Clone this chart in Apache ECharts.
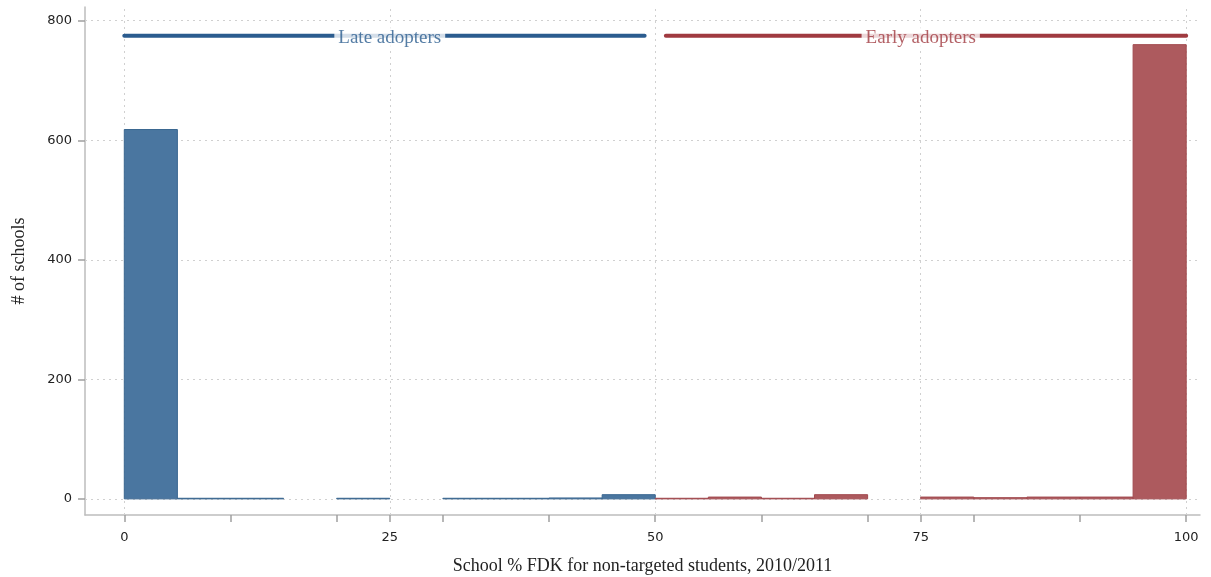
<!DOCTYPE html>
<html>
<head>
<meta charset="utf-8">
<script src="https://cdn.jsdelivr.net/npm/echarts@6/dist/echarts.min.js"></script>
<style>html,body{margin:0;padding:0;background:#fff}#c{width:1211px;height:577px}</style>
</head>
<body>
<div id="c"></div>
<script>
// Histogram bins (bin start, bin end, count)
const lateBins = [
  [0, 5, 618], [5, 10, 1], [10, 15, 1], [15, 20, 0], [20, 25, 1],
  [25, 30, 0], [30, 35, 1], [35, 40, 1], [40, 45, 1.5], [45, 50, 7]
];
const earlyBins = [
  [50, 55, 1], [55, 60, 3], [60, 65, 1], [65, 70, 7], [70, 75, 0],
  [75, 80, 3], [80, 85, 2], [85, 90, 3], [90, 95, 3], [95, 100, 760]
];
// Group indicator lines
const lateLine = [[0, 775], [49, 775]];
const earlyLine = [[51, 775], [100, 775]];
const lateLabel = [[25, 775]];
const earlyLabel = [[75, 775]];
// Axis ticks / labels
const xLabels = [0, 25, 50, 75, 100];
const xTicks = [0, 10, 20, 25, 30, 40, 50, 60, 70, 75, 80, 90, 100];
const yLabels = [0, 200, 400, 600, 800];
const xGrid = [0, 25, 50, 75, 100];

const blue = '#4a76a0', blueEdge = '#3a6791', blueLine = '#2b5c8f';
const red = '#ad5a5e', redEdge = '#a24a4f', redLine = '#a03a40';

function barSeries(data, fill, edge) {
  return {
    type: 'custom',
    data: data,
    renderItem: function (params, api) {
      if (!(api.value(2) > 0)) return null;
      const p0 = api.coord([api.value(0), api.value(2)]);
      const p1 = api.coord([api.value(1), 0]);
      return {
        type: 'rect',
        shape: { x: p0[0], y: p0[1], width: p1[0] - p0[0], height: p1[1] - p0[1] },
        style: { fill: fill, stroke: edge, lineWidth: 1 }
      };
    },
    z: 10
  };
}

const chart = echarts.init(document.getElementById('c'));
const serif = '"Liberation Serif", "Times New Roman", serif';
const tickFont = '"DejaVu Sans", sans-serif';
chart.setOption({
  animation: false,
  grid: { left: 85, right: 11, top: 7, bottom: 62, outerBoundsMode: 'none', containLabel: false },
  xAxis: {
    type: 'value', min: -3.7, max: 101.3,
    name: 'School % FDK for non-targeted students, 2010/2011',
    nameLocation: 'middle', nameGap: 42,
    nameTextStyle: { fontFamily: serif, fontSize: 18, color: '#222' },
    axisLine: { show: true, onZero: false, lineStyle: { color: '#bdbdbd', width: 1.5 } },
    axisTick: { show: true, length: 7, customValues: xTicks, lineStyle: { color: '#a0a0a0', width: 1.5 } },
    axisLabel: { customValues: xLabels, margin: 16, fontFamily: tickFont, fontSize: 13, color: '#222' },
    splitLine: { show: false }
  },
  yAxis: {
    type: 'value', min: -27, max: 823,
    name: '# of schools',
    nameLocation: 'middle', nameGap: 57,
    nameTextStyle: { fontFamily: serif, fontSize: 18, color: '#222' },
    axisLine: { show: true, onZero: false, lineStyle: { color: '#bdbdbd', width: 1.5 } },
    axisTick: { show: true, length: 7, customValues: yLabels, lineStyle: { color: '#a0a0a0', width: 1.5 } },
    axisLabel: { customValues: yLabels, margin: 13, fontFamily: tickFont, fontSize: 13, color: '#222' },
    splitLine: { show: false }
  },
  series: [
    {
      type: 'line', data: [], silent: true, z: 1,
      markLine: {
        symbol: 'none', silent: true, label: { show: false }, z: 1,
        lineStyle: { type: [2, 4], color: '#d0d0d0', width: 1 },
        data: xGrid.map(v => ({ xAxis: v })).concat(yLabels.map(v => ({ yAxis: v })))
      }
    },
    barSeries(lateBins, blue, blueEdge),
    barSeries(earlyBins, red, redEdge),
    {
      type: 'line', data: lateLine, symbol: 'none', silent: true,
      lineStyle: { color: blueLine, width: 4, cap: 'round' }, z: 11
    },
    {
      type: 'line', data: earlyLine, symbol: 'none', silent: true,
      lineStyle: { color: redLine, width: 4, cap: 'round' }, z: 11
    },
    {
      type: 'scatter', data: lateLabel, symbolSize: 0, silent: true, z: 12,
      label: { show: true, position: 'inside', offset: [0, 2], formatter: 'Late adopters', fontFamily: serif, fontSize: 19,
        color: blueLine, backgroundColor: '#fff', padding: [1, 4] }
    },
    {
      type: 'scatter', data: earlyLabel, symbolSize: 0, silent: true, z: 12,
      label: { show: true, position: 'inside', offset: [0, 2], formatter: 'Early adopters', fontFamily: serif, fontSize: 19,
        color: redLine, backgroundColor: '#fff', padding: [1, 4] }
    }
  ]
});
</script>
</body>
</html>
